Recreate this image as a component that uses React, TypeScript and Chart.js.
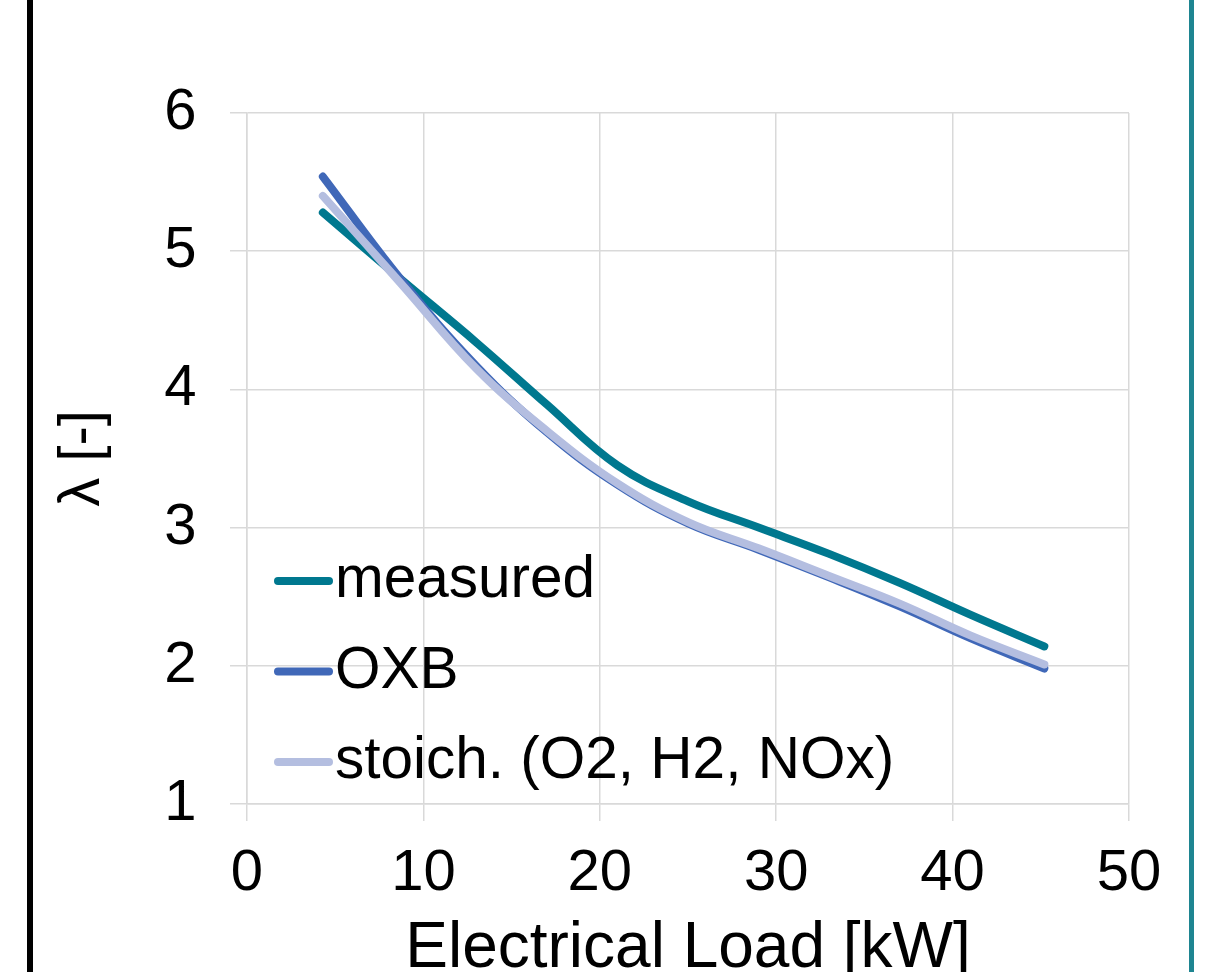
import React, { useEffect, useRef } from "react";
import { Chart, registerables } from "chart.js";

Chart.register(...registerables);

// ---- data ----
const loads = [4.3, 8.7, 13, 17, 21, 25, 29, 33, 37, 41, 45.2];
const measured = [5.28, 4.8, 4.34, 3.89, 3.45, 3.19, 3.0, 2.81, 2.6, 2.37, 2.14];
const oxb = [5.54, 4.8, 4.17, 3.69, 3.31, 3.03, 2.84, 2.64, 2.43, 2.2, 1.98];
const stoich = [5.4, 4.77, 4.15, 3.7, 3.32, 3.04, 2.85, 2.65, 2.45, 2.22, 2.01];
const seriesLabels = ["measured", "OXB", "stoich. (O2, H2, NOx)"];
const seriesColors = ["#00788f", "#4068b8", "#b4bee0"];
const xTickValues = [0, 10, 20, 30, 40, 50];
const yTickValues = [1, 2, 3, 4, 5, 6];
const xTitle = "Electrical Load [kW]";
const yTitle = "λ [-]";

const FONT = "'Liberation Sans', Arial, Helvetica, sans-serif";
const GRID = "#d9d9d9";

const legendPlugin = {
  id: "insideLegend",
  afterDatasetsDraw(chart: any) {
    const { ctx, chartArea } = chart;
    ctx.save();
    ctx.font = `58.5px ${FONT}`;
    ctx.textBaseline = "middle";
    ctx.textAlign = "left";
    chart.data.datasets.forEach((ds: any, i: number) => {
      const y = chartArea.bottom - 223 + i * 90.5;
      const x0 = chartArea.left + 31;
      ctx.strokeStyle = ds.borderColor;
      ctx.lineWidth = 8;
      ctx.lineCap = "round";
      ctx.beginPath();
      ctx.moveTo(x0, y);
      ctx.lineTo(x0 + 51, y);
      ctx.stroke();
      ctx.fillStyle = "#000";
      ctx.fillText(ds.label, x0 + 57, y);
    });
    ctx.restore();
  },
};

export default function App() {
  const ref = useRef<HTMLCanvasElement | null>(null);

  useEffect(() => {
    if (!ref.current) return;
    const series = [measured, oxb, stoich];
    const chart = new Chart(ref.current, {
      type: "line",
      data: {
        datasets: series.map((vals, i) => ({
          label: seriesLabels[i],
          data: loads.map((x, j) => ({ x, y: vals[j] })),
          borderColor: seriesColors[i],
          backgroundColor: seriesColors[i],
          borderWidth: 8,
          borderCapStyle: "round" as const,
          borderJoinStyle: "round" as const,
          pointRadius: 0,
          pointHoverRadius: 0,
          tension: 0.4,
          fill: false,
          order: 2 - i,
        })),
      },
      options: {
        animation: false,
        responsive: true,
        maintainAspectRatio: false,
        events: [],
        layout: { padding: { left: 0, top: 113, right: 88, bottom: 0 } },
        plugins: {
          legend: { display: false },
          tooltip: { enabled: false },
        },
        scales: {
          x: {
            type: "linear",
            min: 0,
            max: 50,
            afterFit: (s: any) => {
              s.height = 168;
            },
            afterBuildTicks: (s: any) => {
              s.ticks = xTickValues.map((v) => ({ value: v }));
            },
            ticks: {
              color: "#000",
              font: { family: FONT, size: 58 },
              padding: 18.5,
              maxRotation: 0,
              autoSkip: false,
            },
            grid: { color: GRID, lineWidth: 1.5, tickLength: 17, tickColor: GRID },
            border: { color: GRID, width: 1.5 },
            title: {
              display: true,
              text: xTitle,
              color: "#000",
              font: { family: FONT, size: 64, lineHeight: 1 },
              padding: { top: 0, bottom: -9 },
            },
          },
          y: {
            type: "linear",
            min: 1,
            max: 6,
            afterFit: (s: any) => {
              s.width = 247;
            },
            afterBuildTicks: (s: any) => {
              s.ticks = yTickValues.map((v) => ({ value: v }));
            },
            ticks: {
              color: "#000",
              font: { family: FONT, size: 58 },
              padding: 33.5,
              autoSkip: false,
            },
            grid: { color: GRID, lineWidth: 1.5, tickLength: 17, tickColor: GRID },
            border: { color: GRID, width: 1.5 },
            title: {
              display: true,
              text: yTitle,
              color: "#000",
              font: { family: FONT, size: 58, lineHeight: 1 },
              padding: { top: 54, bottom: 0 },
            },
          },
        },
      },
      plugins: [legendPlugin],
    });
    return () => chart.destroy();
  }, []);

  return (
    <div
      style={{
        position: "absolute",
        left: 0,
        top: 0,
        width: 1217,
        height: 972,
        background: "#fff",
        overflow: "hidden",
      }}
    >
      <canvas ref={ref} />
      <div
        style={{
          position: "absolute",
          left: 27,
          top: 0,
          width: 6,
          height: 972,
          background: "#000",
        }}
      />
      <div
        style={{
          position: "absolute",
          left: 1189,
          top: 0,
          width: 5,
          height: 972,
          background: "#1e8591",
        }}
      />
    </div>
  );
}
